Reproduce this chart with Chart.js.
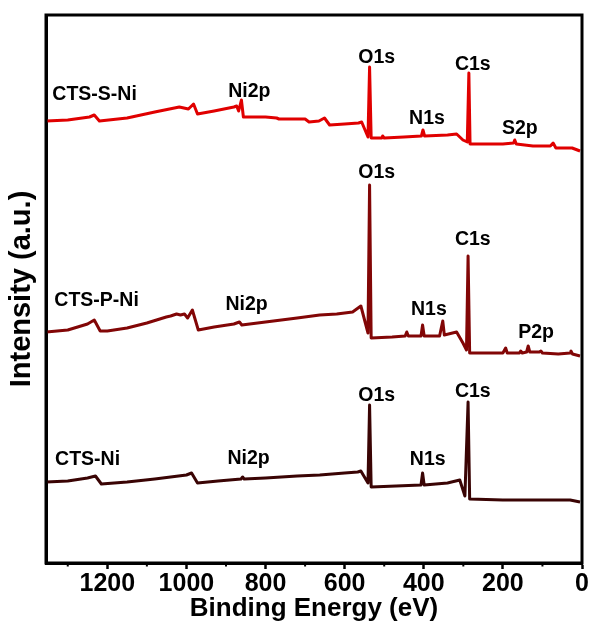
<!DOCTYPE html>
<html lang="en">
<head>
  <meta charset="UTF-8">
  <title>XPS Survey</title>
  <script src="https://cdn.jsdelivr.net/npm/chart.js"></script>
  <style>
    body { margin: 0; background: #fff; }
    #chart { display: block; }
  </style>
</head>
<body>
  <canvas id="chart" width="591" height="632"></canvas>
  <script>
    // binding energy (eV) and intensity (a.u., stacked offsets included)
    const energiaSNi = [1354, 1300, 1245, 1233, 1220, 1150, 1080, 1018, 995, 982, 972, 930, 880, 873, 868, 861, 856, 800, 772, 766, 720, 700, 690, 665, 651, 638, 600, 565, 557, 541, 537, 533, 506, 504, 500, 450, 406, 402, 398, 340, 317, 301, 290, 286, 283, 240, 200, 173, 170, 166, 124, 80, 73, 66, 38, 25, 5];
    const intensSNi = [442, 443, 446, 448, 442, 445, 451, 456, 454, 459, 449, 452, 456, 457, 452, 463, 446, 446, 445, 444, 444, 444, 441, 442, 445, 438, 439, 440, 441, 426, 496, 425, 425, 427, 425, 426, 427, 433, 427, 428, 429, 423, 421, 490, 419, 419, 419, 420, 423, 419, 417, 417, 420, 415, 415, 415, 412];

    const energiaPNi = [1354, 1300, 1250, 1233, 1218, 1200, 1150, 1100, 1051, 1040, 1025, 1015, 1005, 997, 985, 970, 930, 880, 866, 860, 800, 720, 663, 620, 580, 559, 541, 537, 533, 480, 447, 443, 439, 407, 403, 399, 360, 352, 348, 317, 301, 292, 288, 284, 200, 193, 189, 158, 155, 151, 140, 136, 132, 108, 104, 100, 60, 30, 28, 24, 5];
    const intensPNi = [231, 233, 239, 243, 232, 232, 235, 240, 246, 247, 249, 248, 249, 245, 253, 233, 236, 239, 241, 238, 241, 245, 248, 249, 251, 257, 230, 378, 225, 226, 227, 231, 227, 227, 238, 227, 227, 242, 228, 231, 220, 213, 307, 210, 210, 215, 210, 210, 212, 210, 211, 217, 211, 211, 212, 210, 209, 210, 212, 209, 207];

    const energiaNi = [1354, 1300, 1250, 1230, 1215, 1150, 1080, 1000, 987, 972, 920, 862, 858, 854, 800, 720, 663, 600, 567, 559, 541, 537, 533, 470, 407, 403, 399, 340, 309, 296, 288, 284, 200, 100, 30, 5];
    const intensNi = [81, 82, 85, 87, 79, 81, 84, 88, 90, 80, 82, 84, 86, 84, 85, 87, 88, 90, 91, 92, 80, 158, 76, 77, 78, 90, 78, 80, 83, 67, 161, 64, 63, 63, 63, 61];

    const ticksX = [0, 200, 400, 600, 800, 1000, 1200];
    const ticksMenores = [100, 300, 500, 700, 900, 1100, 1300];

    // peak and sample labels
    const rotulos = ['CTS-S-Ni', 'Ni2p', 'O1s', 'N1s', 'C1s', 'S2p',
                     'CTS-P-Ni', 'Ni2p', 'O1s', 'N1s', 'C1s', 'P2p',
                     'CTS-Ni', 'Ni2p', 'O1s', 'N1s', 'C1s'];
    const rotulosEnergia = [1339, 841, 519, 392, 276, 157,
                            1334, 848, 519, 387, 276, 116,
                            1332, 843, 519, 390, 276];
    const rotulosIntens = [468, 471, 505, 444, 498, 434,
                           262, 258, 390, 253, 323, 230,
                           103, 104, 167, 103, 171];
    const rotulosEsq = [true, false, false, false, false, false,
                        true, false, false, false, false, false,
                        true, false, false, false, false];

    const fonte = '"Liberation Sans", Arial, sans-serif';

    const pontos = (xs, ys) => xs.map((x, i) => ({ x: x, y: ys[i] }));

    const pluginExtras = {
      id: 'extras',
      afterDraw(chart) {
        const ctx = chart.ctx;
        const xs = chart.scales.x, ys = chart.scales.y;
        const area = chart.chartArea;
        ctx.save();
        // frame
        ctx.strokeStyle = '#000';
        ctx.lineWidth = 3;
        ctx.strokeRect(area.left, area.top, area.right - area.left, area.bottom - area.top);
        // minor ticks
        ctx.lineWidth = 2;
        ticksMenores.forEach(v => {
          const px = xs.getPixelForValue(v);
          ctx.beginPath();
          ctx.moveTo(px, area.bottom);
          ctx.lineTo(px, area.bottom + 3.5);
          ctx.stroke();
        });
        // labels
        ctx.fillStyle = '#000';
        ctx.font = 'bold 19.5px ' + fonte;
        ctx.textBaseline = 'middle';
        rotulos.forEach((t, i) => {
          ctx.textAlign = rotulosEsq[i] ? 'left' : 'center';
          ctx.fillText(t, xs.getPixelForValue(rotulosEnergia[i]), ys.getPixelForValue(rotulosIntens[i]));
        });
        ctx.restore();
      }
    };

    const ctx = document.getElementById('chart').getContext('2d');
    new Chart(ctx, {
      type: 'line',
      data: {
        datasets: [
          { label: 'CTS-S-Ni', data: pontos(energiaSNi, intensSNi), borderColor: '#e00000' },
          { label: 'CTS-P-Ni', data: pontos(energiaPNi, intensPNi), borderColor: '#820606' },
          { label: 'CTS-Ni', data: pontos(energiaNi, intensNi), borderColor: '#3a0404' }
        ]
      },
      options: {
        responsive: false,
        animation: false,
        datasets: {
          line: { borderWidth: 3, pointRadius: 0, tension: 0, borderJoinStyle: 'round', fill: false }
        },
        layout: { padding: { top: 15, right: 9, left: 0, bottom: 0 } },
        plugins: { legend: { display: false }, tooltip: { enabled: false } },
        scales: {
          x: {
            type: 'linear',
            reverse: true,
            min: 0,
            max: 1355,
            afterBuildTicks: s => { s.ticks = ticksX.map(v => ({ value: v })); },
            afterFit: s => { s.height = 69; },
            ticks: { color: '#000', padding: 0, maxRotation: 0, callback: v => String(v),
                     font: { family: fonte, size: 25, weight: 'bold' } },
            grid: { display: true, drawOnChartArea: false, drawTicks: true, tickLength: 6, tickWidth: 2.5, tickColor: '#000' },
            border: { display: true, color: '#000', width: 3 },
            title: { display: true, text: 'Binding Energy (eV)', color: '#000', padding: { top: 0, bottom: 8 },
                     font: { family: fonte, size: 26, weight: 'bold' } }
          },
          y: {
            min: 0,
            max: 548,
            afterFit: s => { s.width = 46; },
            ticks: { display: false },
            grid: { display: false },
            border: { display: true, color: '#000', width: 3 },
            title: { display: true, text: 'Intensity (a.u.)', color: '#000', padding: { top: 5, bottom: 0 },
                     font: { family: fonte, size: 29, weight: 'bold' } }
          }
        }
      },
      plugins: [pluginExtras]
    });
  </script>
</body>
</html>
